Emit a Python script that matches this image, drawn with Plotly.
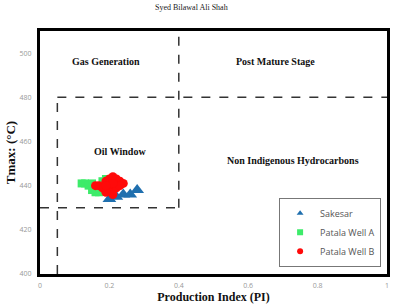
import plotly.graph_objects as go

# Data
sakesar_pi = [0.20, 0.22, 0.24, 0.26, 0.28]
sakesar_tmax = [434, 435, 436, 436, 438]

wella_pi = [0.12, 0.13, 0.14, 0.15, 0.16, 0.17, 0.18, 0.19, 0.15, 0.17]
wella_tmax = [441, 441, 440, 438, 437, 439, 442, 443, 441, 437]

wellb_pi = [0.17, 0.19, 0.20, 0.21, 0.22, 0.23, 0.24, 0.20, 0.22, 0.18, 0.21, 0.23, 0.19,
            0.16, 0.20, 0.21, 0.19]
wellb_tmax = [440, 442, 443, 444, 443, 442, 441, 438, 439, 439, 436, 440, 437,
              440, 440.5, 441, 440]

series_names = ["Sakesar", "Patala Well A", "Patala Well B"]
series_colors = ["#1F6FAE", "#3DEB6A", "#FF0A0A"]
series_symbols = ["triangle-up", "square", "circle"]

x_ticks = [0, 0.2, 0.4, 0.6, 0.8, 1]
x_tick_labels = ["0", "0.2", "0.4", "0.6", "0.8", "1"]
y_ticks = [400, 420, 440, 460, 480, 500]

# zone boundaries
pi_low, pi_mid = 0.05, 0.4
tmax_low, tmax_high = 430, 480

zone_labels = ["Gas Generation", "Post Mature Stage", "Oil Window", "Non Indigenous Hydrocarbons"]
zone_x = [0.19, 0.68, 0.23, 0.73]
zone_y = [496, 496, 455.5, 451.5]

fig = go.Figure()
data_sets = [(sakesar_pi, sakesar_tmax, 12), (wella_pi, wella_tmax, 8), (wellb_pi, wellb_tmax, 9)]
for (xs, ys, sz), nm, col, sym in zip(data_sets, series_names, series_colors, series_symbols):
    fig.add_trace(go.Scatter(x=xs, y=ys, mode="markers", name=nm, showlegend=False,
                             marker=dict(symbol=sym, size=sz, color=col)))
# legend entries with small symbols
for nm, col, sym in zip(series_names, series_colors, series_symbols):
    fig.add_trace(go.Scatter(x=[None], y=[None], mode="markers", name=nm,
                             marker=dict(symbol=sym, size=6, color=col)))

dash = dict(color="#333333", width=1.5, dash="dash")
fig.add_shape(type="line", x0=pi_mid, x1=pi_mid, y0=tmax_low, y1=510, line=dash, layer="below")
fig.add_shape(type="line", x0=pi_low, x1=1, y0=tmax_high, y1=tmax_high, line=dash, layer="below")
fig.add_shape(type="line", x0=pi_low, x1=pi_low, y0=400, y1=tmax_high, line=dash, layer="below")
fig.add_shape(type="line", x0=0, x1=pi_mid, y0=tmax_low, y1=tmax_low, line=dash, layer="below")

for t, xx, yy in zip(zone_labels, zone_x, zone_y):
    fig.add_annotation(x=xx, y=yy, text="<b>" + t + "</b>", showarrow=False,
                       font=dict(family="Liberation Serif", size=10, color="#111111"))

fig.add_annotation(xref="paper", yref="paper", x=0.437, y=1.095, yanchor="middle",
                   text="Syed Bilawal Ali Shah", showarrow=False,
                   font=dict(family="Liberation Serif", size=8, color="#222222"))

fig.update_layout(
    width=394, height=305,
    margin=dict(l=40, r=4, t=31, b=28),
    paper_bgcolor="white", plot_bgcolor="white",
    showlegend=True,
    legend=dict(x=0.983, y=0.03, xanchor="right", yanchor="bottom",
                bgcolor="white", bordercolor="#777777", borderwidth=1,
                font=dict(family="Open Sans", size=9, color="#555555"),
                tracegroupgap=0, itemwidth=30),
    xaxis=dict(range=[0, 1], tickvals=x_ticks, ticktext=x_tick_labels,
               showgrid=False, zeroline=False, showline=True, linecolor="black",
               linewidth=3, mirror=True, ticks="", ticklabelstandoff=3,
               tickfont=dict(family="Open Sans", size=7, color="#999999"),
               title=dict(text="<b>Production Index (PI)</b>", standoff=2,
                          font=dict(family="Liberation Serif", size=12, color="#111111"))),
    yaxis=dict(range=[400, 510], tickvals=y_ticks,
               showgrid=False, zeroline=False, showline=True, linecolor="black",
               linewidth=3, mirror=True, ticks="", ticklabelstandoff=4,
               tickfont=dict(family="Open Sans", size=7, color="#999999"),
               title=dict(text="<b>Tmax: (°C)</b>", standoff=2,
                          font=dict(family="Liberation Serif", size=13, color="#111111"))),
)

fig.write_html("out.html", config={"displayModeBar": False},
               post_script="document.body.style.margin='0';")
